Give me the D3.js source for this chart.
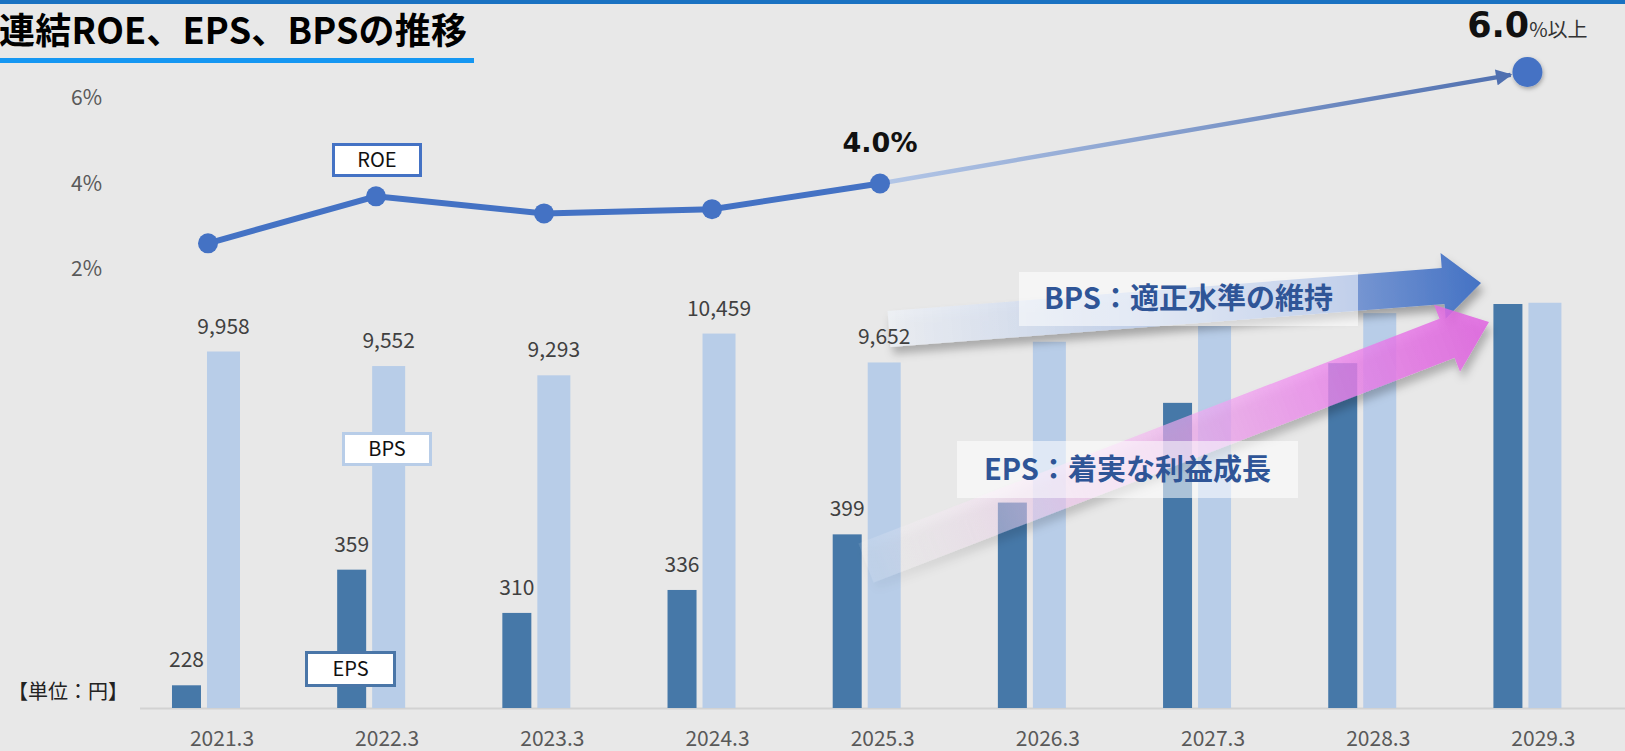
<!DOCTYPE html>
<html>
<head>
<meta charset="utf-8">
<script src="https://cdn.jsdelivr.net/npm/d3@7"></script>
<style>
  body { margin: 0; background: #e8e8e8; overflow: hidden; }
  svg { display: block; }
  text { font-family: "Noto Sans CJK JP", "Noto Sans", sans-serif; }
</style>
</head>
<body>
<div id="chart"></div>
<script>
// data
var years = ["2021.3", "2022.3", "2023.3", "2024.3", "2025.3", "2026.3", "2027.3", "2028.3", "2029.3"];
var epsValues = [228, 359, 310, 336, 399, 435, 548, 593, 660];
var bpsValues = [9958, 9552, 9293, 10459, 9652, 10230, 10670, 11030, 11320];
var actualCount = 5; // only results years carry labels
var roeValues = [2.6, 3.7, 3.3, 3.4, 4.0];
var roeTarget = 6.0;
var roeTicks = [2, 4, 6];

var title = "連結ROE、EPS、BPSの推移";
var unitLabel = "【単位：円】";

var svgWidth = 1625;
var svgHeight = 751;
var baseY = 708;

var svg = d3.select("#chart")
  .append("svg")
  .attr("width", svgWidth)
  .attr("height", svgHeight);

var defs = svg.append("defs");

var shadow = defs.append("filter").attr("id", "shadow")
  .attr("x", "-20%").attr("y", "-40%").attr("width", "140%").attr("height", "200%");
shadow.append("feDropShadow")
  .attr("dx", 3).attr("dy", 7).attr("stdDeviation", 4)
  .attr("flood-color", "#000").attr("flood-opacity", 0.3);

var softShadow = defs.append("filter").attr("id", "softShadow")
  .attr("x", "-50%").attr("y", "-50%").attr("width", "200%").attr("height", "200%");
softShadow.append("feDropShadow")
  .attr("dx", 1).attr("dy", 2).attr("stdDeviation", 2)
  .attr("flood-color", "#000").attr("flood-opacity", 0.3);

function addGradient(id, stops) {
  var g = defs.append("linearGradient").attr("id", id)
    .attr("x1", 0).attr("y1", 0).attr("x2", 1).attr("y2", 0);
  stops.forEach(function(s) {
    g.append("stop").attr("offset", s[0]).attr("stop-color", s[1]).attr("stop-opacity", s[2]);
  });
}
addGradient("bpsGrad", [[0, "#eef1f6", 0.85], [0.4, "#c3d1ea", 0.95], [0.75, "#7f9cd4", 1], [1, "#4472c4", 1]]);
addGradient("epsGrad", [[0, "#ffffff", 0.1], [0.3, "#f7cdf3", 0.55], [0.7, "#f08ef0", 0.75], [1, "#e060e0", 0.85]]);

// projection line gradient in user space
var projGrad = defs.append("linearGradient").attr("id", "projGrad")
  .attr("gradientUnits", "userSpaceOnUse");
projGrad.append("stop").attr("offset", 0).attr("stop-color", "#b4c7e7");
projGrad.append("stop").attr("offset", 1).attr("stop-color", "#5070b0");

defs.append("marker").attr("id", "arrowHead")
  .attr("viewBox", "0 0 10 10").attr("refX", 9).attr("refY", 5)
  .attr("markerWidth", 4).attr("markerHeight", 3.6).attr("orient", "auto")
  .append("path").attr("d", "M0,0L10,5L0,10Z").attr("fill", "#5070b0");

// background
svg.append("rect").attr("width", svgWidth).attr("height", svgHeight).attr("fill", "#e8e8e8");
svg.append("rect").attr("width", svgWidth).attr("height", 4).attr("fill", "#1a72c2");

// title
svg.append("text")
  .attr("x", -1).attr("y", 44)
  .attr("font-size", 36).attr("font-weight", 700).attr("fill", "#000")
  .attr("textLength", 468).attr("lengthAdjust", "spacing")
  .text(title);
svg.append("rect").attr("x", 0).attr("y", 58).attr("width", 474).attr("height", 5).attr("fill", "#1597f2");

// scales
var x = d3.scaleBand().domain(years).range([123.4, 1610]);
var epsY = d3.scaleLinear().domain([200, 700]).range([710, 268.7]);
var bpsY = d3.scaleLinear().domain([0, 12000]).range([baseY, 278.4]);
var roeY = d3.scaleLinear().domain([2, 6]).range([269, 98]);
var roeX = d3.scalePoint().domain(years).range([208, 1552]);

function center(d) { return x(d) + x.bandwidth() / 2; }

// baseline
svg.append("line")
  .attr("x1", 140).attr("x2", svgWidth).attr("y1", baseY + 0.5).attr("y2", baseY + 0.5)
  .attr("stroke", "#d2d2d2").attr("stroke-width", 2);

// x axis labels
var xAxis = svg.append("g")
  .attr("transform", `translate(0, ${baseY})`)
  .call(d3.axisBottom(x).tickSize(0).tickPadding(23));
xAxis.select(".domain").remove();
xAxis.selectAll("text")
  .attr("x", 16)
  .attr("font-size", 21).attr("fill", "#595959")
  .style("font-family", "'Noto Sans CJK JP', sans-serif");

// y axis (ROE)
var yAxis = svg.append("g")
  .attr("transform", "translate(102, 0)")
  .call(d3.axisLeft(roeY).tickValues(roeTicks).tickFormat(d => d + "%").tickSize(0).tickPadding(0));
yAxis.select(".domain").remove();
yAxis.selectAll("text")
  .attr("font-size", 21).attr("fill", "#595959")
  .style("font-family", "'Noto Sans CJK JP', sans-serif");

// bars
var bars = svg.append("g");
bars.selectAll(".eps").data(epsValues).enter().append("rect")
  .attr("x", (d, i) => center(years[i]) - 34)
  .attr("y", d => epsY(d))
  .attr("width", 29)
  .attr("height", d => baseY - epsY(d))
  .attr("fill", "#4678a8");
bars.selectAll(".bps").data(bpsValues).enter().append("rect")
  .attr("x", (d, i) => center(years[i]) + 1)
  .attr("y", d => bpsY(d))
  .attr("width", 33)
  .attr("height", d => baseY - bpsY(d))
  .attr("fill", "#b8cde8");

// big trend arrows
function blockArrow(x0, y0, x1, y1, shaftW, headW, headL, fill) {
  var len = Math.hypot(x1 - x0, y1 - y0);
  var ang = Math.atan2(y1 - y0, x1 - x0) * 180 / Math.PI;
  var p = [
    [0, -shaftW / 2], [len - headL, -shaftW / 2], [len - headL, -headW / 2],
    [len, 0], [len - headL, headW / 2], [len - headL, shaftW / 2], [0, shaftW / 2]
  ];
  svg.append("g").attr("filter", "url(#shadow)")
    .append("path")
    .attr("transform", `translate(${x0},${y0}) rotate(${ang})`)
    .attr("d", "M" + p.join("L") + "Z")
    .attr("fill", fill);
}
blockArrow(889, 329, 1481, 283, 36, 66, 38, "url(#bpsGrad)");
blockArrow(866, 563, 1489, 322, 42, 72, 45, "url(#epsGrad)");

// value labels for result years
var labels = svg.append("g").attr("font-size", 21).attr("fill", "#404040").attr("text-anchor", "middle");
labels.selectAll(".epsLabel").data(epsValues.slice(0, actualCount)).enter().append("text")
  .attr("x", (d, i) => center(years[i]) - 19.5)
  .attr("y", d => epsY(d) - 18)
  .text(d => d3.format(",")(d));
labels.selectAll(".bpsLabel").data(bpsValues.slice(0, actualCount)).enter().append("text")
  .attr("x", (d, i) => center(years[i]) + 17.5)
  .attr("y", d => bpsY(d) - 18)
  .text(d => d3.format(",")(d));

// text boxes on arrows
function noteBox(bx, by, bw, bh, txt) {
  svg.append("rect").attr("x", bx).attr("y", by).attr("width", bw).attr("height", bh)
    .attr("fill", "#ffffff").attr("fill-opacity", 0.55);
  svg.append("text")
    .attr("x", bx + bw / 2).attr("y", by + bh / 2 + 10)
    .attr("text-anchor", "middle")
    .attr("font-size", 29).attr("font-weight", 700).attr("fill", "#2f5597")
    .text(txt);
}
noteBox(1019, 272, 339, 54, "BPS：適正水準の維持");
noteBox(957, 441, 341, 57, "EPS：着実な利益成長");

// ROE projection to target
var lastX = roeX(years[actualCount - 1]);
var lastY = roeY(roeValues[actualCount - 1]);
var tX = center(years[years.length - 1]);
var tY = roeY(roeTarget) - 26;
var dl = Math.hypot(tX - lastX, tY - lastY);
var endX = tX - (tX - lastX) / dl * 17;
var endY = tY - (tY - lastY) / dl * 17;
projGrad.attr("x1", lastX).attr("y1", lastY).attr("x2", endX).attr("y2", endY);
svg.append("line")
  .attr("x1", lastX).attr("y1", lastY).attr("x2", endX).attr("y2", endY)
  .attr("stroke", "url(#projGrad)").attr("stroke-width", 4.5)
  .attr("marker-end", "url(#arrowHead)");

svg.append("circle")
  .attr("cx", tX).attr("cy", tY).attr("r", 15)
  .attr("fill", "#4472c4").attr("filter", "url(#softShadow)");

var targetText = svg.append("text")
  .attr("x", tX).attr("y", tY - 35)
  .attr("text-anchor", "middle");
targetText.append("tspan")
  .style("font-family", "'DejaVu Sans', sans-serif")
  .attr("font-size", 35).attr("font-weight", 700).attr("fill", "#111")
  .text(d3.format(".1f")(roeTarget));
targetText.append("tspan")
  .attr("font-size", 20).attr("fill", "#333")
  .text("%以上");

// ROE line
var roeLine = d3.line()
  .x((d, i) => roeX(years[i]))
  .y(d => roeY(d));
svg.append("path")
  .datum(roeValues)
  .attr("d", roeLine)
  .attr("fill", "none").attr("stroke", "#4472c4").attr("stroke-width", 6);
svg.selectAll(".roeDot").data(roeValues).enter().append("circle")
  .attr("cx", (d, i) => roeX(years[i]))
  .attr("cy", d => roeY(d))
  .attr("r", 10)
  .attr("fill", "#4472c4");

svg.append("text")
  .attr("x", lastX).attr("y", lastY - 32)
  .attr("text-anchor", "middle")
  .style("font-family", "'DejaVu Sans', sans-serif")
  .attr("font-size", 27).attr("font-weight", 700).attr("fill", "#111")
  .text(d3.format(".1f")(roeValues[actualCount - 1]) + "%");

// series name boxes
function nameBox(bx, by, bw, bh, stroke, txt) {
  svg.append("rect").attr("x", bx).attr("y", by).attr("width", bw).attr("height", bh)
    .attr("fill", "#fff").attr("stroke", stroke).attr("stroke-width", 3);
  svg.append("text").attr("x", bx + bw / 2).attr("y", by + bh / 2 + 7)
    .attr("text-anchor", "middle").attr("font-size", 20).attr("fill", "#111")
    .text(txt);
}
nameBox(333.5, 144.5, 87, 31, "#4472c4", "ROE");
nameBox(343.5, 433.5, 87, 31, "#b8cde8", "BPS");
nameBox(306.5, 652.5, 88, 33, "#4a76a8", "EPS");

// unit
svg.append("text")
  .attr("x", 8).attr("y", 699)
  .attr("font-size", 20).attr("fill", "#222")
  .text(unitLabel);
</script>
</body>
</html>
